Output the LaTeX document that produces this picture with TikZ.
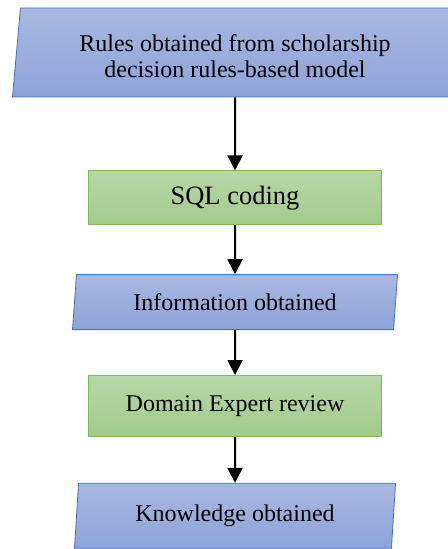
\documentclass[tikz,border=0pt]{standalone}
\usepackage{fontspec}
\setmainfont{Liberation Serif}
\usetikzlibrary{shapes.geometric, positioning, arrows.meta}
\definecolor{iotop}{HTML}{A9B8E1}
\definecolor{iobot}{HTML}{8DA3D8}
\definecolor{ioline}{HTML}{4472C4}
\definecolor{proctop}{HTML}{B6D7A6}
\definecolor{procbot}{HTML}{A3CB8D}
\definecolor{procline}{HTML}{7DB955}
\tikzset {
    >={Triangle[width=15bp,length=15bp]},
    node distance=47bp,
    io/.style={trapezium, trapezium left angle=81, trapezium right angle=99,
        trapezium stretches body, draw=ioline, line width=0.8bp,
        top color=iotop, bottom color=iobot, align=center, inner sep=0pt,
        font=\fontsize{24bp}{26bp}\selectfont},
    process/.style={rectangle, draw=procline, line width=0.8bp,
        top color=proctop, bottom color=procbot, inner sep=0pt,
        minimum width=293bp, font=\fontsize{24bp}{26bp}\selectfont},
    flow/.style={->, line width=2bp}
}
\begin{document}
\begin{tikzpicture}[x=1bp, y=1bp]
                    \useasboundingbox (0,0) rectangle (448,-549);
                    \node[io, minimum width=445bp, minimum height=89bp] (rules) at (235,-52.5)
                        {\rule{0pt}{24bp}Rules obtained from scholarship\\decision rules-based model};
                    \node[process, minimum height=54bp, below=73bp of rules,
                        font=\fontsize{26.5bp}{28bp}\selectfont] (sql) {SQL coding};
                    \node[io, trapezium left angle=77, trapezium right angle=103,
                        minimum width=325bp, minimum height=55bp, below=49bp of sql] (info) {Information obtained};
                    \node[process, minimum height=61bp, below=45bp of info] (review) {Domain Expert review};
                    \node[io, trapezium left angle=79.5, trapezium right angle=100.5,
                        minimum width=321bp, minimum height=65bp, below=46bp of review] (knowledge) {Knowledge obtained};

                    \draw[flow] (rules) -- (sql);
                    \draw[flow] (sql) -- (info);
                    \draw[flow] (info) -- (review);
                    \draw[flow] (review) -- (knowledge);
                    \end{tikzpicture}
\end{document}
